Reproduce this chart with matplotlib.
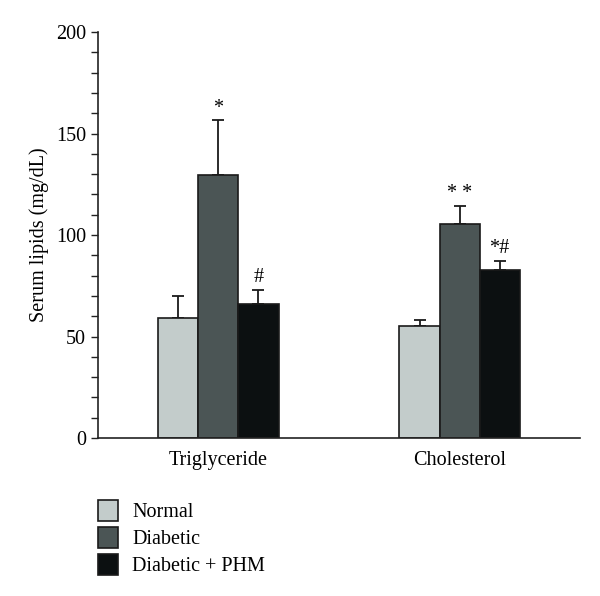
import matplotlib.pyplot as plt
import numpy as np
from matplotlib.patches import Patch
from matplotlib.ticker import MultipleLocator

plt.rcParams['font.family'] = ['Liberation Serif', 'DejaVu Serif']

# data
categories = ["Triglyceride", "Cholesterol"]
groups = ["Normal", "Diabetic", "Diabetic + PHM"]
normal = [59, 55]
diabetic = [129.5, 105.5]
phm = [66, 83]
normal_err = [11, 3]
diabetic_err = [27, 9]
phm_err = [7, 4.3]
marks = [["", "*", "#"], ["", "* *", "*#"]]

colors = ["#c3cccb", "#4b5555", "#0c1011"]
fs = 14.5

fig = plt.figure(figsize=(6, 5.96), dpi=100)
ax = fig.add_axes([0.1633, 0.2651, 0.8034, 0.6812])

x = np.arange(len(categories))
w = 0.166
series = [(normal, normal_err), (diabetic, diabetic_err), (phm, phm_err)]
for i, (vals, errs) in enumerate(series):
    pos = x + (i - 1) * w
    ax.bar(pos, vals, w, color=colors[i], edgecolor="#1a1a1a", linewidth=1.2, zorder=2)
    ax.errorbar(pos, vals, yerr=[np.zeros(len(vals)), errs], fmt="none",
                ecolor="#1a1a1a", elinewidth=1.3, capsize=4, capthick=1.3, zorder=1)
    for j in range(len(categories)):
        if marks[j][i]:
            ax.annotate(marks[j][i], (pos[j], vals[j] + errs[j]), xytext=(0, 2),
                        textcoords="offset points", ha="center", va="bottom", fontsize=fs)

ax.set_xlim(-0.5, 1.5)
ax.set_ylim(0, 200)
ax.set_xticks(x)
ax.set_xticklabels(categories, fontsize=fs)
ax.tick_params(axis="x", length=0, pad=9)
ax.yaxis.set_major_locator(MultipleLocator(50))
ax.yaxis.set_minor_locator(MultipleLocator(10))
ax.tick_params(axis="y", which="both", length=5, width=1, direction="out", labelsize=fs, color="#222222")
ax.set_ylabel("Serum lipids (mg/dL)", fontsize=fs, labelpad=5)
for s in ["top", "right"]:
    ax.spines[s].set_visible(False)
for s in ["left", "bottom"]:
    ax.spines[s].set_linewidth(1.2)
    ax.spines[s].set_color("#222222")

handles = [Patch(facecolor=c, edgecolor="#1a1a1a", linewidth=1.2) for c in colors]
fig.legend(handles, groups, loc="upper left", bbox_to_anchor=(0.163, 0.161), frameon=False,
           fontsize=fs, handlelength=1.0, handleheight=1.2, handletextpad=0.7,
           labelspacing=0.25, borderaxespad=0, borderpad=0)

fig.savefig("out.png", dpi=100)
